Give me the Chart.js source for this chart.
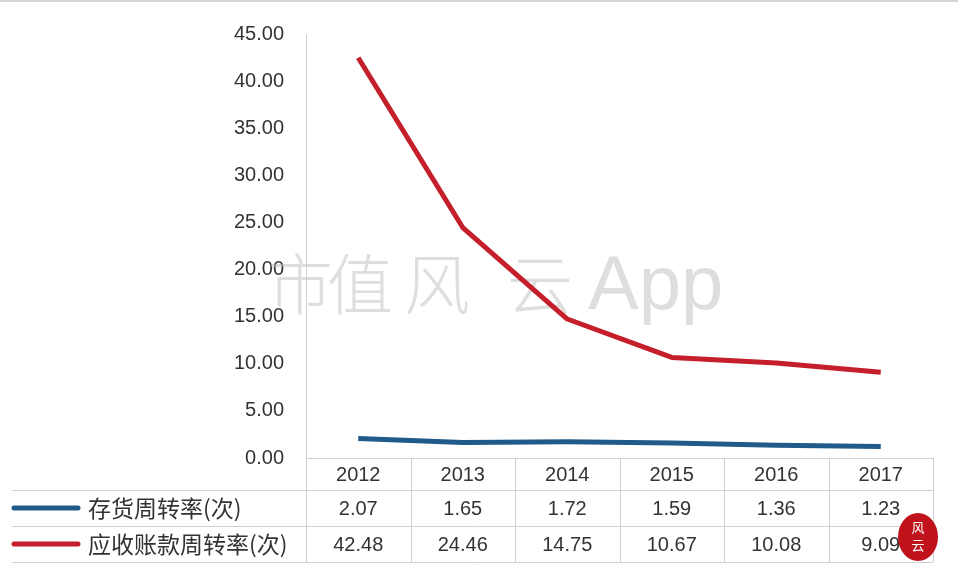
<!DOCTYPE html>
<html>
<head>
<meta charset="utf-8">
<script src="https://cdn.jsdelivr.net/npm/chart.js@4"></script>
<style>
  body { margin: 0; background: #fff; }
  canvas { display: block; }
</style>
</head>
<body>
<canvas id="myChart" width="958" height="574"></canvas>
<script>
    const years = ['2012', '2013', '2014', '2015', '2016', '2017']
    const inventoryTurnover = [2.07, 1.65, 1.72, 1.59, 1.36, 1.23]
    const receivableTurnover = [42.48, 24.46, 14.75, 10.67, 10.08, 9.09]
    const seriesNames = ['存货周转率(次)', '应收账款周转率(次)']
    const seriesColors = ['#1f5a8a', '#c41f2a']
    const yMin = 0, yMax = 45, yStep = 5

    const numFont = '20px "Liberation Sans", Arial, sans-serif'
    const cjkFont = '23px "Noto Sans CJK SC", sans-serif'
    const lineGrey = '#d0d0d0'

    const watermark = {
        id: 'watermark',
        beforeDatasetsDraw(chart) {
            const c = chart.ctx
            c.save()
            c.fillStyle = 'rgba(190,190,190,0.5)'
            c.textBaseline = 'middle'
            c.textAlign = 'center'
            c.font = '300 66px "Noto Sans CJK SC", sans-serif'
            ;[['市', 300], ['值', 360], ['风', 437], ['云', 540]].forEach(([t, x]) => c.fillText(t, x, 284))
            c.font = '76px "Liberation Sans", sans-serif'
            c.textAlign = 'left'
            c.fillText('App', 588, 288)
            c.restore()
        }
    }

    const dataTable = {
        id: 'dataTable',
        afterDraw(chart) {
            const c = chart.ctx
            const area = chart.chartArea
            const xs = chart.scales.x
            const colW = area.width / years.length
            const rowY = [area.bottom, 490, 526, 562]
            const tableLeft = 12

            c.save()
            // frame line at the very top
            c.fillStyle = '#d5d5d5'
            c.fillRect(0, 0, 958, 2)

            c.strokeStyle = lineGrey
            c.lineWidth = 1
            c.beginPath()
            c.moveTo(area.left, rowY[0] + 0.5); c.lineTo(area.right, rowY[0] + 0.5)
            for (let r = 1; r < rowY.length; r++) {
                c.moveTo(tableLeft, rowY[r] + 0.5); c.lineTo(area.right, rowY[r] + 0.5)
            }
            for (let i = 0; i <= years.length; i++) {
                const x = Math.round(area.left + i * colW) + 0.5
                c.moveTo(x, rowY[0]); c.lineTo(x, rowY[3])
            }
            c.stroke()

            // header years
            c.fillStyle = '#333'
            c.font = numFont
            c.textAlign = 'center'
            c.textBaseline = 'middle'
            years.forEach((y, i) => c.fillText(y, xs.getPixelForValue(i), (rowY[0] + rowY[1]) / 2 + 1))

            // rows
            const rowsData = [inventoryTurnover, receivableTurnover]
            rowsData.forEach((vals, r) => {
                const cy = (rowY[r + 1] + rowY[r + 2]) / 2
                c.strokeStyle = seriesColors[r]
                c.lineWidth = 5
                c.lineCap = 'round'
                c.beginPath()
                c.moveTo(tableLeft + 2, cy); c.lineTo(78, cy)
                c.stroke()
                c.fillStyle = '#333'
                c.font = cjkFont
                c.textAlign = 'left'
                c.fillText(seriesNames[r], 88, cy)
                c.font = numFont
                c.textAlign = 'center'
                vals.forEach((v, i) => c.fillText(v.toFixed(2), xs.getPixelForValue(i), cy + 1))
            })

            // red seal
            c.fillStyle = '#c0121b'
            c.beginPath()
            c.ellipse(918, 537, 20, 24, 0, 0, Math.PI * 2)
            c.fill()
            c.fillStyle = '#fff'
            c.font = '13px "Noto Sans CJK SC", sans-serif'
            c.textAlign = 'center'
            c.fillText('风', 918, 527)
            c.fillText('云', 918, 545)
            c.restore()
        }
    }

    const ctx = document.getElementById('myChart').getContext('2d')
    const chart = new Chart(ctx, {
        type: 'line',
        data: {
            labels: years,
            datasets: [
                { label: seriesNames[0], data: inventoryTurnover, borderColor: seriesColors[0], borderWidth: 5 },
                { label: seriesNames[1], data: receivableTurnover, borderColor: seriesColors[1], borderWidth: 5 }
            ]
        },
        options: {
            responsive: false,
            animation: false,
            layout: { padding: { top: 30, right: 25, bottom: 116, left: 0 } },
            elements: {
                point: { radius: 0 },
                line: { tension: 0, borderJoinStyle: 'round', borderCapStyle: 'butt' }
            },
            plugins: { legend: { display: false }, tooltip: { enabled: false } },
            scales: {
                x: { type: 'category', offset: true, display: false },
                y: {
                    min: yMin, max: yMax,
                    afterFit: s => { s.width = 306 },
                    grid: { display: false, drawTicks: false },
                    border: { display: true, color: lineGrey, width: 1 },
                    ticks: {
                        stepSize: yStep,
                        padding: 22,
                        color: '#333',
                        font: { family: '"Liberation Sans", Arial, sans-serif', size: 20 },
                        callback: v => v.toFixed(2)
                    }
                }
            }
        },
        plugins: [watermark, dataTable]
    })
</script>
</body>
</html>
